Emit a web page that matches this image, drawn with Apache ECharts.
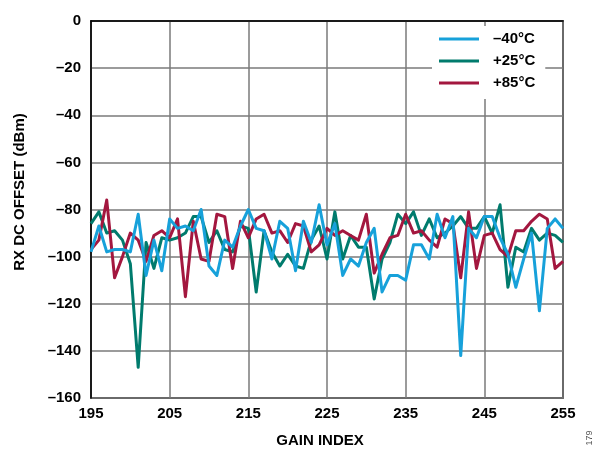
<!DOCTYPE html>
<html><head><meta charset="utf-8">
<script src="https://cdn.jsdelivr.net/npm/echarts@6/dist/echarts.min.js"></script>
<style>html,body{margin:0;padding:0;background:#fff}#c{width:596px;height:453px}</style>
</head><body><div id="c"></div>
<script>
const gainIndex = [195,196,197,198,199,200,201,202,203,204,205,206,207,208,209,210,211,212,213,214,215,216,217,218,219,220,221,222,223,224,225,226,227,228,229,230,231,232,233,234,235,236,237,238,239,240,241,242,243,244,245,246,247,248,249,250,251,252,253,254,255];
const seriesNames = ['\u201340\u00b0C', '+25\u00b0C', '+85\u00b0C'];
const minus40 = [-98,-87,-98,-97,-97,-98,-82,-108,-93,-106,
  -84,-88,-87,-89,-80,-104,-108,-93,-96,-87,
  -80,-88,-89,-101,-85,-88,-106,-85,-94,-78,
  -95,-86,-108,-101,-104,-94,-88,-115,-108,-108,
  -110,-95,-95,-101,-82,-92,-83,-142,-88,-92,
  -83,-83,-92,-99,-113,-101,-90,-123,-88,-84,
  -88];
const plus25 = [-86,-81,-90,-89,-93,-103,-147,-94,-105,-92,
  -93,-92,-90,-83,-83,-94,-89,-97,-98,-87,
  -88,-115,-89,-98,-104,-99,-104,-105,-93,-87,
  -101,-81,-101,-91,-96,-96,-118,-101,-94,-82,
  -86,-81,-91,-84,-92,-90,-87,-83,-88,-88,
  -83,-90,-78,-113,-96,-98,-88,-93,-90,-91,
  -94];
const plus85 = [-97,-93,-76,-109,-100,-90,-93,-102,-91,-89,
  -92,-84,-117,-85,-101,-102,-82,-83,-105,-85,
  -92,-84,-82,-90,-89,-94,-86,-87,-98,-95,
  -88,-91,-89,-91,-93,-82,-107,-99,-92,-91,
  -82,-90,-89,-93,-96,-84,-86,-109,-81,-105,
  -91,-90,-97,-100,-89,-89,-85,-82,-84,-105,
  -102];
const xTitle = 'GAIN INDEX';
const yTitle = 'RX DC OFFSET (dBm)';
const figId = '179';
const colors = ['#17a1da', '#007b6d', '#a3173f'];

const FONT = '"Liberation Sans", Arial, Helvetica, sans-serif';
const pairs = ys => gainIndex.map((g, i) => [g, ys[i]]);
const chart = echarts.init(document.getElementById('c'), null, {renderer: 'canvas'});
const mkSeries = (name, ys, color, z) => ({
  name, type: 'line', data: pairs(ys), showSymbol: false, symbol: 'none',
  lineStyle: {color, width: 3, join: 'round'}, itemStyle: {color}, z,
  emphasis: {disabled: true}
});
chart.setOption({
  animation: false,
  backgroundColor: '#fff',
  grid: {left: 91, right: 33, top: 21, bottom: 55, show: true, borderColor: '#000', borderWidth: 1.5, backgroundColor: 'transparent'},
  legend: {
    orient: 'vertical', left: 432, top: 26,
    padding: [5, 10, 8, 7], backgroundColor: '#fff',
    itemWidth: 40, itemHeight: 3, itemGap: 6, icon: 'rect',
    data: seriesNames,
    textStyle: {fontFamily: FONT, fontSize: 15, fontWeight: 'bold', color: '#000', lineHeight: 16, padding: [0, 0, 0, 9]}
  },
  xAxis: {
    type: 'value', min: 195, max: 255, interval: 10,
    axisLine: {show: true, lineStyle: {color: '#000', width: 1.5}},
    axisTick: {show: false},
    axisLabel: {fontFamily: FONT, fontSize: 15, fontWeight: 'bold', color: '#000', margin: 8},
    splitLine: {show: true, lineStyle: {color: '#7a7a7a', width: 1.5}}
  },
  yAxis: {
    type: 'value', min: -160, max: 0, interval: 20,
    axisLine: {show: true, lineStyle: {color: '#000', width: 1.5}},
    axisTick: {show: false},
    axisLabel: {fontFamily: FONT, fontSize: 15, fontWeight: 'bold', color: '#000', margin: 10,
      formatter: v => v === 0 ? '0' : '\u2013' + Math.abs(v)},
    splitLine: {show: true, lineStyle: {color: '#7a7a7a', width: 1.5}}
  },
  series: [
    mkSeries(seriesNames[0], minus40, colors[0], 5),
    mkSeries(seriesNames[1], plus25, colors[1], 3),
    mkSeries(seriesNames[2], plus85, colors[2], 4)
  ],
  graphic: [
    {type: 'text', x: 320, y: 441,
      style: {text: xTitle, fontFamily: FONT, fontSize: 15, fontWeight: 'bold', fill: '#000', align: 'center', verticalAlign: 'middle'}},
    {type: 'text', x: 20, y: 192, rotation: Math.PI / 2,
      style: {text: yTitle, fontFamily: FONT, fontSize: 15, fontWeight: 'bold', fill: '#000', align: 'center', verticalAlign: 'middle'}},
    {type: 'text', x: 590, y: 438, rotation: Math.PI / 2,
      style: {text: figId, fontFamily: FONT, fontSize: 9, fill: '#555', align: 'center', verticalAlign: 'middle'}}
  ]
});
</script></body></html>
